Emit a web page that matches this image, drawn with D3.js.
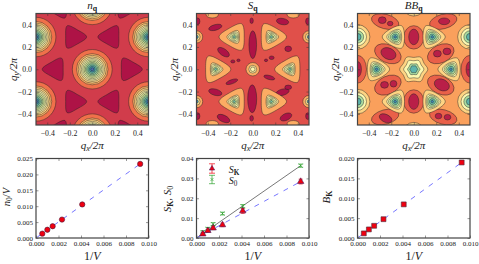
<!DOCTYPE html>
<html>
<head>
<meta charset="utf-8">
<script src="https://cdn.jsdelivr.net/npm/d3@7/dist/d3.min.js"></script>
<style>
html, body { margin: 0; padding: 0; background: #fff; overflow: hidden; }
text { font-family: "Liberation Serif", serif; fill: #222; }
</style>
</head>
<body>
<script>
// ---- contour panels: all shapes are in q units, level is position on the Spectral map
var qTicks = [-0.4, -0.2, 0.0, 0.2, 0.4];

// n_q
var nBackground = 0.1;
var nPeaks = [[0, 0], [-0.5, 0.289], [0.5, 0.289], [-0.5, -0.289], [0.5, -0.289], [0, 0.577], [0, -0.577]];
var nRingRadii = [0.177, 0.14, 0.125, 0.11, 0.097, 0.085, 0.073, 0.061, 0.05, 0.038, 0.026, 0.014];
var nRingLevels = [0.2, 0.3, 0.37, 0.43, 0.5, 0.56, 0.62, 0.68, 0.74, 0.8, 0.87, 0.95];
// x, y, radius, flip (1: tip along +x, -1: tip along -x)
var nWells = [[0.33, 0, 0.115, 1], [-0.33, 0, 0.115, -1], [0.165, 0.29, 0.115, -1], [-0.165, 0.29, 0.115, 1],
    [0.165, -0.29, 0.115, -1], [-0.165, -0.29, 0.115, 1], [0.3, 0.56, 0.115, 1], [-0.3, 0.56, 0.115, -1],
    [0.3, -0.56, 0.115, 1], [-0.3, -0.56, 0.115, -1]];
var nWellLevel = 0.03;

// S_q
var sBackground = 0.14;
var sBlobLevel = 0.03;
// x, y, rx, ry, rotation
var sBlobs = [[0, 0.22, 0.034, 0.125, 0], [-0.005, -0.265, 0.04, 0.125, 0], [-0.01, 0.435, 0.015, 0.025, 0], [-0.01, -0.44, 0.016, 0.025, 0],
    [-0.26, 0.153, 0.06, 0.03, -35], [0.315, 0.183, 0.03, 0.025, 0], [-0.333, 0.375, 0.06, 0.025, 15], [0.265, 0.428, 0.055, 0.028, -10],
    [-0.127, 0.08, 0.014, 0.012, 0], [-0.177, 0.07, 0.018, 0.014, 0], [0.118, 0.08, 0.014, 0.012, 0], [0.168, 0.103, 0.022, 0.016, 0],
    [-0.333, -0.206, 0.06, 0.028, -15], [0.265, -0.206, 0.06, 0.028, 15], [-0.186, -0.112, 0.055, 0.018, 20], [0.147, -0.074, 0.05, 0.018, -15],
    [0.315, -0.162, 0.03, 0.02, 0], [-0.26, -0.442, 0.06, 0.03, -25], [0.295, -0.428, 0.055, 0.03, 25],
    [-0.49, 0.43, 0.02, 0.03, 0], [-0.49, -0.42, 0.02, 0.03, 0], [0.49, 0.43, 0.02, 0.03, 0], [0.49, -0.42, 0.02, 0.03, 0]];
// x, y, flip
var sPeaks = [[0.33, 0, -1], [-0.33, 0, 1], [0.165, 0.29, 1], [-0.165, 0.29, -1], [0.165, -0.29, 1], [-0.165, -0.29, -1]];
var sPeakRadii = [0.135, 0.065, 0.05, 0.036, 0.022, 0.011];
var sPeakLevels = [0.3, 0.42, 0.5, 0.58, 0.66, 0.78];
var sEdgePeaks = [[-0.5, 0.29], [0.5, 0.29], [-0.5, -0.29], [0.5, -0.29]];
var sEdgeRadii = [0.055, 0.032, 0.016];
var sEdgeLevels = [0.3, 0.42, 0.88];
var sRimBlobs = [[-0.36, 0.49, 0.055, 0.03, 0], [0.36, 0.49, 0.055, 0.03, 0], [-0.36, -0.49, 0.055, 0.03, 0], [0.36, -0.49, 0.055, 0.03, 0]];
var sRimLevel = 0.3;
var sCentreRadii = [0.06, 0.035, 0.02];
var sCentreLevels = [0.3, 0.42, 0.5];

// BB_q
var bBackground = 0.28;
var bOuterLevel = 0.17;
var bOuter = [[0, 0.286, 0.09, 0.105, 0], [0, -0.289, 0.09, 0.105, 0], [-0.23, 0.139, 0.125, 0.08, -25], [0.24, 0.139, 0.125, 0.08, 25],
    [-0.23, -0.142, 0.125, 0.08, 25], [0.24, -0.142, 0.125, 0.08, -25], [-0.254, 0.428, 0.125, 0.065, -15], [0.262, 0.428, 0.125, 0.065, 15],
    [-0.254, -0.428, 0.125, 0.065, 15], [0.262, -0.428, 0.125, 0.065, -15], [-0.5, 0, 0.08, 0.125, 0], [0.5, 0, 0.08, 0.125, 0]];
var bInnerLevel = 0.05;
var bInner = [[0, 0.29, 0.045, 0.07, 0], [0, -0.29, 0.045, 0.07, 0], [-0.225, 0.14, 0.07, 0.05, -25], [0.21, 0.14, 0.035, 0.03, 0], [0.295, 0.16, 0.035, 0.03, 0],
    [-0.26, -0.14, 0.035, 0.03, 0], [-0.18, -0.13, 0.03, 0.03, 0], [0.25, -0.14, 0.07, 0.05, -25], [-0.28, 0.44, 0.035, 0.03, 0], [-0.21, 0.41, 0.025, 0.02, 0],
    [0.27, 0.43, 0.05, 0.03, 0], [-0.25, -0.44, 0.06, 0.035, -25], [0.22, -0.42, 0.03, 0.025, 0], [0.3, -0.43, 0.03, 0.025, 0],
    [-0.5, 0, 0.035, 0.07, 0], [0.5, 0, 0.035, 0.07, 0]];
var bPeaks = [[0.33, 0, -1], [-0.33, 0, 1], [0.165, 0.29, 1], [-0.165, 0.29, -1], [0.165, -0.29, 1], [-0.165, -0.29, -1]];
var bPeakRadii = [0.115, 0.075, 0.06, 0.045, 0.028, 0.012];
var bPeakLevels = [0.38, 0.5, 0.6, 0.7, 0.8, 0.9];
var bEdgePeaks = [[-0.5, 0.29], [0.5, 0.29], [-0.5, -0.29], [0.5, -0.29]];
var bEdgeRadii = [0.11, 0.08, 0.055, 0.032];
var bEdgeLevels = [0.38, 0.5, 0.7, 0.82];
var bRimPeaks = [[0, 0.577], [0, -0.577]];
var bRimRadii = [0.1, 0.06];
var bRimLevels = [0.38, 0.5];
var bCentreRadii = [0.125, 0.09, 0.055, 0.035];
var bCentreLevels = [0.38, 0.5, 0.7, 0.82];

// ---- finite size scaling
var invVolume = [0.00056, 0.00101, 0.00148, 0.00231, 0.00411, 0.00926];
var nValues = [0.00137, 0.0026, 0.0037, 0.0058, 0.01055, 0.0233];
var skValues = [0.002, 0.0037, 0.005, 0.0066, 0.0136, 0.0284];
var skErrors = [0.0008, 0.0008, 0.0008, 0.0009, 0.0012, 0.0012];
var s0Values = [0.003, 0.0047, 0.007, 0.0123, 0.016, 0.0364];
var s0Errors = [0.0006, 0.0006, 0.0007, 0.0007, 0.0008, 0.0008];
var bValues = [0.00116, 0.00216, 0.00307, 0.00473, 0.00846, 0.019];
var volumeTicks = [0, 0.002, 0.004, 0.006, 0.008, 0.01];
var nTicks = [0, 0.005, 0.01, 0.015, 0.02, 0.025];
var sTicks = [0, 0.01, 0.02, 0.03, 0.04];
var bTicks = [0, 0.005, 0.01, 0.015, 0.02];

var panelX = [36, 196.5, 357.5];
var panelW = 112.5;
var svg = d3.select("body").append("svg").attr("width", 479).attr("height", 264);
var defs = svg.append("defs");

function mathText(g, x, y, size, parts, rotate) {
    // parts: [text, kind], kind i = italic, r = roman, s = bold subscript, n = italic subscript, b = roman subscript
    var t = g.append("text")
        .attr("text-anchor", "middle")
        .attr("font-size", size)
        .attr("transform", "translate(" + x + "," + y + ")" + (rotate ? " rotate(-90)" : ""));
    var shift = 0;
    parts.forEach(function (p) {
        var sub = p[1] == "s" || p[1] == "n" || p[1] == "b";
        var span = t.append("tspan").text(p[0])
            .attr("font-style", p[1] == "i" || p[1] == "n" ? "italic" : "normal")
            .attr("font-weight", p[1] == "s" ? "bold" : "normal")
            .attr("dy", (sub ? size * 0.22 : 0) - shift);
        if (sub) span.attr("font-size", size * 0.72);
        shift = sub ? size * 0.22 : 0;
    });
}

function contourPanel(idx, draw) {
    var px = panelX[idx], top = 13.5, h = 111.5;
    var x = d3.scaleLinear().domain([-0.5, 0.5]).range([0, panelW]);
    var y = d3.scaleLinear().domain([-0.5, 0.5]).range([h, 0]);
    var g = svg.append("g").attr("transform", "translate(" + px + "," + top + ")");
    defs.append("clipPath").attr("id", "clip" + idx).append("rect").attr("width", panelW).attr("height", h);
    var plot = g.append("g").attr("clip-path", "url(#clip" + idx + ")");
    var outline = d3.line().x(function (d) { return x(d[0]); }).y(function (d) { return y(d[1]); }).curve(d3.curveCatmullRomClosed);

    var api = {
        background: function (level) {
            plot.append("rect").attr("width", panelW).attr("height", h).attr("fill", d3.interpolateSpectral(level));
        },
        ellipses: function (list, level) {
            plot.selectAll(null).data(list).enter().append("ellipse")
                .attr("cx", function (d) { return x(d[0]); })
                .attr("cy", function (d) { return y(d[1]); })
                .attr("rx", function (d) { return x(d[2]) - x(0); })
                .attr("ry", function (d) { return y(0) - y(d[3]); })
                .attr("transform", function (d) { return "rotate(" + (-d[4]) + "," + x(d[0]) + "," + y(d[1]) + ")"; })
                .attr("fill", d3.interpolateSpectral(level))
                .attr("stroke", "#222").attr("stroke-width", 0.45);
        },
        circles: function (centres, radii, levels) {
            radii.forEach(function (r, i) {
                api.ellipses(centres.map(function (c) { return [c[0], c[1], r, r, 0]; }), levels[i]);
            });
        },
        // rounded polygon: corners at r, side midpoints at r * waist
        lobes: function (cx, cy, r, flip, n, waist, level) {
            var pts = d3.range(2 * n).map(function (k) {
                var a = k * Math.PI / n + (flip < 0 ? Math.PI : 0);
                var rr = k % 2 ? r * waist : r;
                return [cx + rr * Math.cos(a), cy + rr * Math.sin(a)];
            });
            plot.append("path").attr("d", outline(pts))
                .attr("fill", d3.interpolateSpectral(level))
                .attr("stroke", "#222").attr("stroke-width", 0.45);
        }
    };
    draw(api);

    var bottom = d3.axisBottom(x).tickValues(qTicks).tickSize(-2.5).tickSizeOuter(0).tickPadding(5).tickFormat(d3.format(".1f"));
    var left = d3.axisLeft(y).tickValues(qTicks).tickSize(-2.5).tickSizeOuter(0).tickPadding(4).tickFormat(d3.format(".1f"));
    finishAxes(g, panelW, h, bottom, left, 7.8);
}

function finishAxes(g, w, h, bottom, left, fontSize) {
    var ax = g.append("g").attr("transform", "translate(0," + h + ")").call(bottom);
    var ay = g.append("g").call(left);
    [ax, ay].forEach(function (a) {
        a.select(".domain").remove();
        a.selectAll("line").attr("stroke", "#333").attr("stroke-width", 0.5);
        a.selectAll("text").attr("font-size", fontSize);
    });
    // mirrored ticks on the far sides
    g.append("g").selectAll(null).data(ax.selectAll(".tick").nodes()).enter().append("line")
        .attr("transform", function (d) { return d.getAttribute("transform"); })
        .attr("y1", 0).attr("y2", 2.5).attr("stroke", "#333").attr("stroke-width", 0.5);
    g.append("g").selectAll(null).data(ay.selectAll(".tick").nodes()).enter().append("line")
        .attr("transform", function (d) { return d.getAttribute("transform"); })
        .attr("x1", w).attr("x2", w - 2.5).attr("stroke", "#333").attr("stroke-width", 0.5);
    g.append("rect").attr("width", w).attr("height", h)
        .attr("fill", "none").attr("stroke", "#444").attr("stroke-width", 1.2);
}

contourPanel(0, function (p) {
    p.background(nBackground);
    nWells.forEach(function (d) { p.lobes(d[0], d[1], d[2], d[3], 3, 0.62, nWellLevel); });
    p.circles(nPeaks, nRingRadii, nRingLevels);
});

contourPanel(1, function (p) {
    p.background(sBackground);
    p.ellipses(sBlobs, sBlobLevel);
    p.ellipses(sRimBlobs, sRimLevel);
    sPeakRadii.forEach(function (r, i) {
        sPeaks.forEach(function (d) { p.lobes(d[0], d[1], r, d[2], 3, 0.66 + i * 0.06, sPeakLevels[i]); });
    });
    p.circles(sEdgePeaks, sEdgeRadii, sEdgeLevels);
    p.circles([[0, 0]], sCentreRadii, sCentreLevels);
});

contourPanel(2, function (p) {
    p.background(bBackground);
    p.ellipses(bOuter, bOuterLevel);
    p.ellipses(bInner, bInnerLevel);
    bPeakRadii.forEach(function (r, i) {
        bPeaks.forEach(function (d) { p.lobes(d[0], d[1], r, d[2], 3, 0.72 + i * 0.05, bPeakLevels[i]); });
    });
    p.circles(bEdgePeaks, bEdgeRadii, bEdgeLevels);
    p.circles(bRimPeaks, bRimRadii, bRimLevels);
    bCentreRadii.forEach(function (r, i) { p.lobes(0, 0, r, 1, 6, 0.85, bCentreLevels[i]); });
});

var titles = [[["n", "i"], ["q", "s"]], [["S", "i"], ["q", "s"]], [["BB", "i"], ["q", "s"]]];
panelX.forEach(function (px, i) {
    mathText(svg, px + panelW / 2, 9, 11, titles[i]);
    mathText(svg, px + panelW / 2, 149, 11, [["q", "i"], ["x", "n"], ["/2π", "i"]]);
    mathText(svg, px - 19, 69.5, 11, [["q", "i"], ["y", "n"], ["/2π", "i"]], true);
    mathText(svg, px + panelW / 2, 260, 12, [["1/", "r"], ["V", "i"]]);
});

// ---- bottom row
function scalingPanel(idx, yMax, yTicks, fmt) {
    var h = 79.5;
    var x = d3.scaleLinear().domain([0, 0.01]).range([0, panelW]);
    var y = d3.scaleLinear().domain([0, yMax]).range([h, 0]);
    var g = svg.append("g").attr("transform", "translate(" + panelX[idx] + ",158.5)");
    g.x = x; g.y = y;
    g.finish = function () {
        var bottom = d3.axisBottom(x).tickValues(volumeTicks).tickSize(-2.5).tickSizeOuter(0).tickPadding(3.5).tickFormat(d3.format(".3f"));
        var left = d3.axisLeft(y).tickValues(yTicks).tickSize(-2.5).tickSizeOuter(0).tickPadding(3).tickFormat(d3.format(fmt));
        finishAxes(g, panelW, h, bottom, left, 7);
    };
    return g;
}

function fitLine(g, last, stroke, width, dash) {
    g.append("path")
        .attr("d", d3.line().x(function (d) { return g.x(d[0]); }).y(function (d) { return g.y(d[1]); })([[0, 0], [invVolume[5], last]]))
        .attr("fill", "none").attr("stroke", stroke).attr("stroke-width", width)
        .attr("stroke-dasharray", dash);
}

function markers(g, xs, ys, type, size, fill, stroke) {
    g.selectAll(null).data(xs).enter().append("path")
        .attr("d", d3.symbol().type(type).size(size))
        .attr("transform", function (d, i) { return "translate(" + g.x(d) + "," + g.y(ys[i]) + ")"; })
        .attr("fill", fill).attr("stroke", stroke).attr("stroke-width", 0.6);
}

function errorBars(g, xs, ys, errs, color, cap) {
    xs.forEach(function (d, i) {
        var px = g.x(d);
        g.append("path")
            .attr("d", "M" + (px - cap) + "," + g.y(ys[i] + errs[i]) + "h" + (2 * cap) + "M" + (px - cap) + "," + g.y(ys[i] - errs[i]) + "h" + (2 * cap) + "M" + px + "," + g.y(ys[i] + errs[i]) + "V" + g.y(ys[i] - errs[i]))
            .attr("fill", "none").attr("stroke", color).attr("stroke-width", 0.7);
    });
}

var g0 = scalingPanel(0, 0.025, nTicks, ".3f");
fitLine(g0, nValues[5], "#6666ff", 0.9, "5,6");
markers(g0, invVolume, nValues, d3.symbolCircle, 22, "#f00010", "#4a1a3a");
g0.finish();
mathText(svg, 9.5, 197, 10.5, [["n", "i"], ["0", "b"], ["/", "r"], ["V", "i"]], true);

var g1 = scalingPanel(1, 0.04, sTicks, ".2f");
fitLine(g1, s0Values[5], "#555", 0.8, null);
fitLine(g1, skValues[5], "#6666ff", 0.9, "5,6");
errorBars(g1, invVolume, s0Values, s0Errors, "#2ca02c", 2.5);
markers(g1, invVolume, s0Values, d3.symbolTimes, 12, "none", "#2ca02c");
errorBars(g1, invVolume, skValues, skErrors, "#f00010", 2);
markers(g1, invVolume, skValues, d3.symbolTriangle, 18, "#f00010", "#4a1a5a");
g1.finish();
mathText(svg, 171, 199, 11, [["S", "i"], ["K", "s"], [", ", "r"], ["S", "i"], ["0", "b"]], true);

// legend, offsets in pixels from its own corner
var legend = svg.append("g").attr("transform", "translate(212,168.5)");
var legendX = d3.scaleLinear().domain([0, 1]).range([0, 1]);
legend.x = legendX; legend.y = legendX;
errorBars(legend, [0], [0], [4.7], "#f00010", 3);
markers(legend, [0], [0], d3.symbolTriangle, 12, "#f00010", "#4a1a5a");
errorBars(legend, [0], [11], [4.2], "#2ca02c", 3);
markers(legend, [0], [11], d3.symbolTimes, 8, "none", "#2ca02c");
mathText(svg, 234, 172.5, 10, [["S", "i"], ["K", "s"]]);
mathText(svg, 233, 183.5, 10, [["S", "i"], ["0", "b"]]);

var g2 = scalingPanel(2, 0.02, bTicks, ".3f");
fitLine(g2, bValues[5], "#6666ff", 0.9, "5,6");
markers(g2, invVolume, bValues, d3.symbolSquare, 24, "#f00010", "#4a2a3a");
g2.finish();
mathText(svg, 330, 197, 11, [["B", "i"], ["K", "s"]], true);
</script>
</body>
</html>
